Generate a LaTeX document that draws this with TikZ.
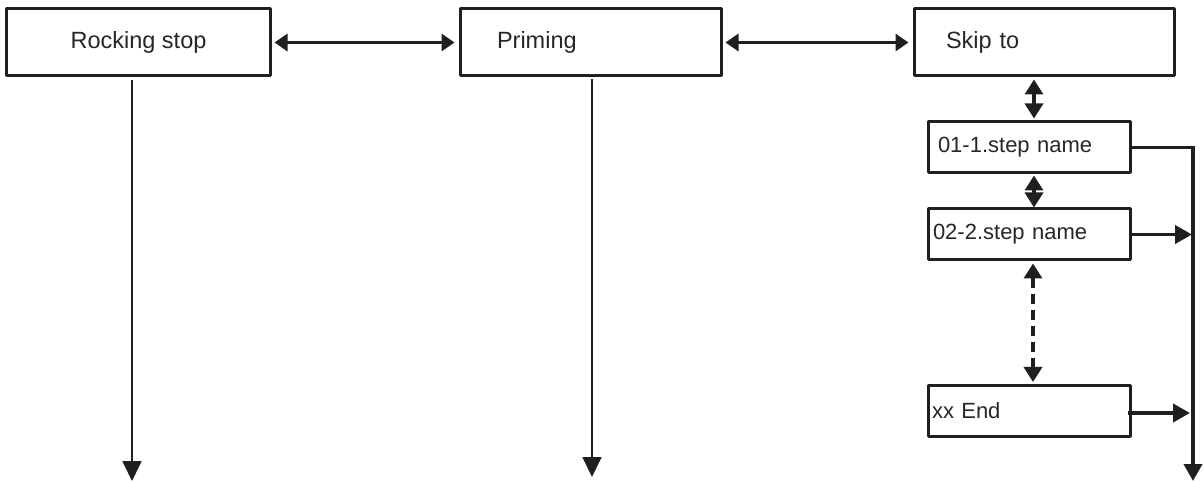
\documentclass[tikz,border=0pt]{standalone}
\usepackage{fontspec}
\setmainfont{Liberation Sans}
\usetikzlibrary{arrows.meta}
\begin{document}
\begin{tikzpicture}[x=1bp,y=-1bp,>={Triangle[length=13bp,width=17bp]},line join=bevel,
  menubox/.style={draw,line width=3bp,color=black!88,text=black!85,minimum height=67bp,inner ysep=0pt,font=\fontsize{23.5bp}{26bp}\selectfont},
  stepbox/.style={draw,line width=3bp,color=black!88,text=black!85,minimum height=51bp,inner ysep=0pt,align=left,font=\fontsize{22bp}{25bp}\selectfont},
  sidelink/.style={black!88,line width=3.8bp,<->,shorten <=3bp,shorten >=4bp},
  steplink/.style={black!88,line width=3.4bp,{Triangle[length=15bp,width=18bp]}-{Triangle[length=15bp,width=18bp]},shorten <=2bp,shorten >=2bp},
  downlink/.style={black!88,line width=1.8bp,-{Triangle[length=20bp,width=19bp]}},
  buslink/.style={black!88,line width=3.8bp,-{Triangle[length=17bp,width=18bp]}},
]
\useasboundingbox (0,0) rectangle (1204,483);
%%
\node (node_0) at (138.5,42.5) [menubox,minimum width=263bp,align=center] {Rocking stop};
  \node (node_1) at (590.5,42.5) [menubox,text width=187bp,inner xsep=37bp,align=left] {Priming};
  \node (node_2) at (1044,42.5) [menubox,text width=196bp,inner xsep=32bp,align=left] {Skip to};
  \node (node_3) at (1029,147.5) [stepbox,text width=182bp,inner xsep=10bp] {01-1.step name};
  \node (node_4) at (1029,234.5) [stepbox,text width=192bp,inner xsep=5bp] {02-2.step name};
  \node (node_5) at (1029,411) [stepbox,text width=194bp,inner xsep=4bp] {xx End};
  \coordinate (end_0) at (132,481);
  \coordinate (end_1) at (592,477);
  \coordinate (end_2) at (1193,481);
%
  \draw [sidelink] (node_0) -- (node_1);
  \draw [sidelink] (node_1) -- (node_2);
  \draw [downlink] (node_0.south -| end_0) ++(0,3) -- (end_0);
  \draw [downlink] (node_1.south -| end_1) ++(0,2) -- (end_1);
  \draw [steplink] ([xshift=5bp]node_3.north) -- ([xshift=5bp]node_3.north |- node_2.south);
  \draw [steplink,shorten <=0bp,shorten >=1bp] ([xshift=5bp]node_4.north) -- ([xshift=5bp]node_3.south);
  \draw [steplink,dash pattern=on 10bp off 6bp] ([xshift=4bp]node_5.north) -- ([xshift=4bp]node_5.north |- node_4.south);
  \draw [black!88,line width=2.4bp] (node_3.east) -- (node_3.east -| end_2);
  \draw [buslink] ([yshift=1.2bp]node_3.east -| end_2) -- (end_2);
  \draw [buslink,shorten >=1bp] (node_4.east) -- (node_4.east -| end_2);
  \draw [buslink,shorten >=3bp] ([xshift=-4bp,yshift=-2bp]node_5.east) -- ([yshift=-2bp]node_5.east -| end_2);
%
\end{tikzpicture}
\end{document}
